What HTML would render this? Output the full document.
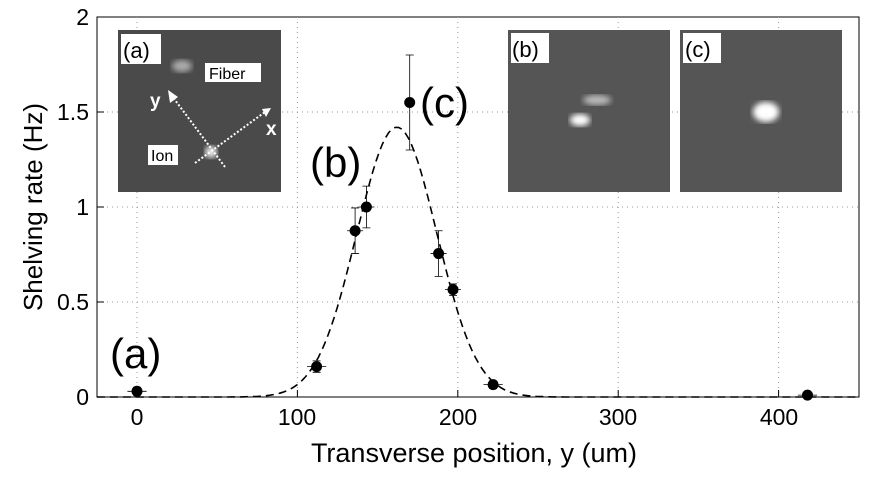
<!DOCTYPE html><html><head><style>body{margin:0;background:#fff}</style></head><body>
<svg width="871" height="479" xmlns="http://www.w3.org/2000/svg" font-family="Liberation Sans, Arial, sans-serif">
<defs>
<filter id="b"><feGaussianBlur stdDeviation="3"/></filter>
</defs>
<rect x="97" y="17" width="762" height="380" fill="#fff" stroke="#000" stroke-width="1"/>
<g stroke="#999" stroke-dasharray="1,4" stroke-width="1">
<line x1="137" y1="17" x2="137" y2="397"/><line x1="297.4" y1="17" x2="297.4" y2="397"/><line x1="457.8" y1="17" x2="457.8" y2="397"/><line x1="618.2" y1="17" x2="618.2" y2="397"/><line x1="778.6" y1="17" x2="778.6" y2="397"/>
<line x1="97" y1="112" x2="859" y2="112"/><line x1="97" y1="207" x2="859" y2="207"/><line x1="97" y1="302" x2="859" y2="302"/>
</g>
<g stroke="#000"><line x1="137" y1="397" x2="137" y2="390"/><line x1="297.4" y1="397" x2="297.4" y2="390"/><line x1="457.8" y1="397" x2="457.8" y2="390"/><line x1="618.2" y1="397" x2="618.2" y2="390"/><line x1="778.6" y1="397" x2="778.6" y2="390"/>
<line x1="97" y1="112" x2="104" y2="112"/><line x1="97" y1="207" x2="104" y2="207"/><line x1="97" y1="302" x2="104" y2="302"/></g>
<g font-size="23" text-anchor="middle"><text x="137" y="425">0</text><text x="297" y="425">100</text><text x="458" y="425">200</text><text x="618" y="425">300</text><text x="779" y="425">400</text></g>
<g font-size="23" text-anchor="end"><text x="89" y="405">0</text><text x="89" y="310">0.5</text><text x="89" y="215">1</text><text x="89" y="120">1.5</text><text x="89" y="25">2</text></g>
<text x="474" y="462" font-size="27" text-anchor="middle">Transverse position, y (um)</text>
<text transform="translate(42,207) rotate(-90)" font-size="26" text-anchor="middle">Shelving rate (Hz)</text>
<path id="g" fill="none" stroke="#000" stroke-width="1.6" stroke-dasharray="8,5" d=""/>
<script>
var d="";for(var v=-25;v<=450;v+=2){var y=1.42*Math.exp(-Math.pow(v-162,2)/(2*25*25));d+=(v==-25?"M":"L")+(137+1.604*v).toFixed(1)+","+(397-190*y).toFixed(1);}document.getElementById("g").setAttribute("d",d);
</script>
<g stroke="#000" stroke-width="0.8" fill="none">
<path d="M127.4,391.3H146.6M137,387.5V395.1M133,387.5H141M133,395.1H141"/>
<path d="M307,366.6H326.2M316.6,360.9V372.3M312.6,360.9H320.6M312.6,372.3H320.6"/>
<path d="M347.1,230.75H363.1M355.1,207.95V253.55M351.1,207.95H359.1M351.1,253.55H359.1"/>
<path d="M358.4,207H374.4M366.4,186.1V227.9M362.4,186.1H370.4M362.4,227.9H370.4"/>
<path d="M409.7,55V150M405.7,55H413.7M405.7,150H413.7"/>
<path d="M430.6,253.55H446.6M438.6,230.75V276.35M434.6,230.75H442.6M434.6,276.35H442.6"/>
<path d="M445,289.65H461M453,283.95V295.35M449,283.95H457M449,295.35H457"/>
<path d="M483.5,384.65H502.7M493.1,380.85V388.45M489.1,380.85H497.1M489.1,388.45H497.1"/>
<path d="M797.9,395.1H817.1M807.5,393.2V397M803.5,393.2H811.5"/>
</g>
<g fill="#000">
<circle cx="137" cy="391.3" r="5.5"/><circle cx="316.6" cy="366.6" r="5.5"/><circle cx="355.1" cy="230.75" r="5.5"/><circle cx="366.4" cy="207" r="5.5"/><circle cx="409.7" cy="102.5" r="5.5"/><circle cx="438.6" cy="253.55" r="5.5"/><circle cx="453" cy="289.65" r="5.5"/><circle cx="493.1" cy="384.65" r="5.5"/><circle cx="807.5" cy="395.1" r="5.5"/>
</g>
<g font-size="42"><text x="110" y="368">(a)</text><text x="310" y="177">(b)</text><text x="420" y="117">(c)</text></g>
<g>
<rect x="118" y="30" width="163" height="162" fill="#4a4a4a"/>
<ellipse cx="182" cy="66" rx="10" ry="6" fill="#aaa" filter="url(#b)"/><circle cx="211" cy="152" r="6" fill="#eee" filter="url(#b)"/>
<rect x="121" y="34" width="40" height="30" fill="#fff"/><text x="123" y="58" font-size="22">(a)</text>
<rect x="205" y="63" width="56" height="19" fill="#fff"/><text x="209" y="79" font-size="16">Fiber</text>
<rect x="148" y="145" width="30" height="20" fill="#fff"/><text x="151" y="161" font-size="16">Ion</text>
<g stroke="#fff" stroke-width="2" stroke-dasharray="2,2"><line x1="225" y1="167" x2="172" y2="96"/><line x1="195" y1="163" x2="265" y2="112"/></g>
<polygon points="168,90 178,97 170,103" fill="#fff"/><polygon points="271,108 262,109 266,117" fill="#fff"/>
<text x="150" y="107" font-size="19" fill="#fff" font-weight="bold">y</text><text x="266" y="135" font-size="19" fill="#fff" font-weight="bold">x</text>
</g>
<g>
<rect x="508" y="30" width="162" height="162" fill="#555"/>
<ellipse cx="597" cy="100" rx="14" ry="5" fill="#bbb" filter="url(#b)"/><ellipse cx="580" cy="120" rx="10" ry="6" fill="#fff" filter="url(#b)"/>
<rect x="511" y="33" width="38" height="30" fill="#fff"/><text x="512" y="57" font-size="22">(b)</text>
</g>
<g>
<rect x="680" y="30" width="162" height="162" fill="#555"/>
<ellipse cx="766" cy="112" rx="13" ry="10" fill="#fff" filter="url(#b)"/>
<rect x="683" y="33" width="38" height="30" fill="#fff"/><text x="685" y="57" font-size="22">(c)</text>
</g>
</svg></body></html>
